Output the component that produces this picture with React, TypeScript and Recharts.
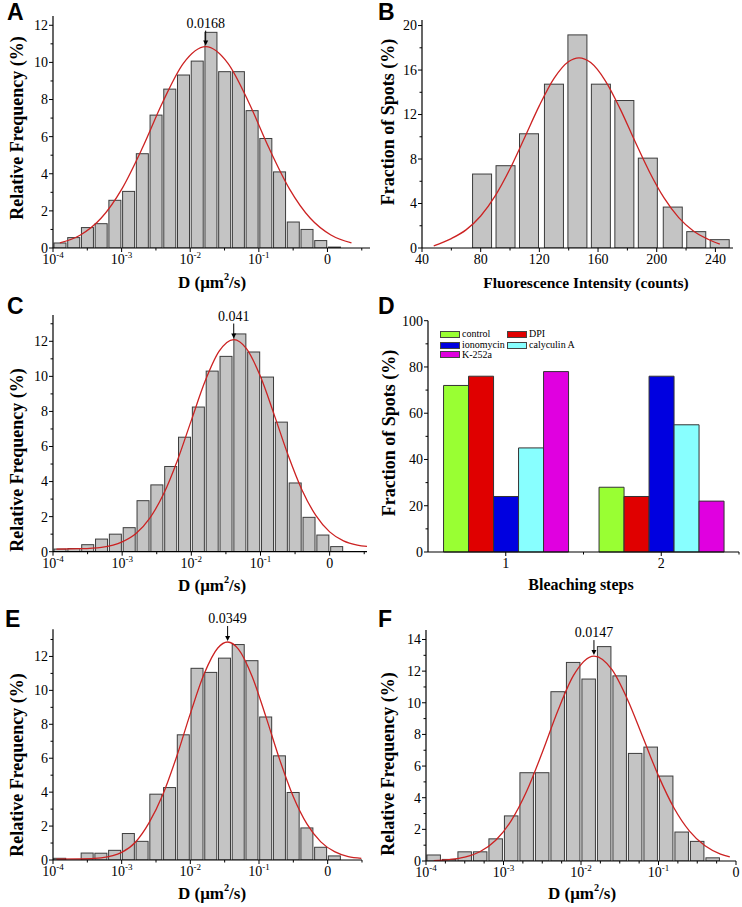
import React from 'react'
import { ComposedChart, BarChart, Bar, Line, XAxis, YAxis, ReferenceDot } from 'recharts'

const SERIF = '"Liberation Serif", "Times New Roman", serif'
const SANS = '"Liberation Sans", Arial, sans-serif'
const BAR_FILL = '#c4c4c4'
const BAR_EDGE = '#3c3c3c'
const FIT_RED = '#cc2222'

// log10(D) bin centres, 0.2 decade bins
const logBins = [-3.9, -3.7, -3.5, -3.3, -3.1, -2.9, -2.7, -2.5, -2.3, -2.1, -1.9, -1.7, -1.5, -1.3, -1.1, -0.9, -0.7, -0.5, -0.3, -0.1, 0.1]
const logBinsF = [-3.9, -3.7, -3.5, -3.3, -3.1, -2.9, -2.7, -2.5, -2.3, -2.1, -1.9, -1.7, -1.5, -1.3, -1.1, -0.9, -0.7, -0.5, -0.3]

// relative frequency (%)
const freqA = [0.27, 0.56, 1.1, 1.31, 2.57, 3.05, 5.08, 7.16, 8.56, 9.32, 10.07, 11.62, 9.5, 9.5, 7.4, 5.9, 4.1, 1.4, 1.0, 0.4, 0.05]
const freqC = [0.15, 0.18, 0.4, 0.72, 1.0, 1.37, 2.91, 3.81, 4.86, 6.53, 8.25, 10.3, 11.14, 12.42, 11.39, 9.96, 7.39, 3.92, 1.96, 0.95, 0.29]
const freqE = [0.1, 0, 0.41, 0.4, 0.57, 1.56, 1.1, 3.88, 4.27, 7.38, 11.3, 11.06, 11.9, 12.7, 11.75, 8.43, 6.14, 3.98, 1.89, 0.75, 0.24]
const freqF = [0.38, 0.1, 0.58, 0.58, 1.4, 2.85, 5.58, 5.58, 10.7, 12.55, 11.5, 13.55, 11.7, 6.8, 7.2, 5.37, 1.83, 1.24, 0.2]

// fitted curves
const fitXA = [-3.9, -3.6, -3.3, -3.0, -2.7, -2.4, -2.1, -1.775, -1.45, -1.15, -0.85, -0.55, -0.25, 0.05, 0.35]
const fitYA = [0.27, 0.7, 1.6, 3.16, 5.37, 7.87, 9.95, 10.85, 9.95, 7.87, 5.37, 3.16, 1.6, 0.7, 0.27]
const fitXC = [-3.95, -3.6, -3.3, -3.0, -2.8, -2.6, -2.4, -2.2, -2.0, -1.8, -1.6, -1.387, -1.2, -1.0, -0.8, -0.6, -0.4, -0.2, 0.0, 0.2, 0.4, 0.54]
const fitYC = [0.15, 0.17, 0.25, 0.56, 1.04, 1.92, 3.3, 5.22, 7.49, 9.73, 11.42, 12.1, 11.57, 9.99, 7.79, 5.5, 3.52, 2.07, 1.13, 0.62, 0.38, 0.3]
const fitXE = [-3.95, -3.6, -3.3, -3.0, -2.8, -2.6, -2.4, -2.2, -2.0, -1.8, -1.6, -1.457, -1.3, -1.1, -0.9, -0.7, -0.5, -0.3, -0.1, 0.1, 0.3, 0.49]
const fitYE = [0.05, 0.06, 0.13, 0.45, 1.05, 2.2, 3.86, 6.09, 8.63, 10.96, 12.5, 12.85, 12.43, 10.82, 8.45, 5.93, 3.73, 2.11, 1.07, 0.49, 0.2, 0.1]
const fitXF = [-3.9, -3.7, -3.5, -3.3, -3.1, -2.9, -2.7, -2.5, -2.3, -2.1, -1.833, -1.6, -1.4, -1.2, -1.0, -0.8, -0.6, -0.4, -0.2, -0.08]
const fitYF = [0.03, 0.09, 0.24, 0.6, 1.31, 2.55, 4.42, 6.86, 9.48, 11.7, 12.95, 12.09, 10.21, 7.8, 5.38, 3.35, 1.89, 0.96, 0.44, 0.26]

// panel B: fluorescence intensity histogram
const intensityBins = [81, 97, 113, 130, 146, 162, 178, 194, 211, 227, 243]
const spotsB = [6.65, 7.4, 10.27, 14.73, 19.16, 14.73, 13.26, 8.08, 3.68, 1.47, 0.75]
const fitXB = [48, 60, 70, 80, 90, 100, 110, 120, 130, 140, 147, 155, 165, 175, 185, 195, 205, 215, 225, 235, 243]
const fitYB = [0.2, 0.85, 1.63, 2.88, 4.71, 7.12, 9.94, 12.8, 15.25, 16.77, 17.1, 16.67, 15.03, 12.53, 9.64, 6.86, 4.5, 2.73, 1.53, 0.79, 0.35]

// panel D: bleaching steps
const steps = ['1', '2']
const control = [72, 28]
const dpi = [76, 24]
const ionomycin = [24, 76]
const calyculin = [45, 55]
const k252a = [78, 22]

// axis ticks
const logMajor = [-4, -3, -2, -1, 0]
const logMinorHalf = [-3.5, -2.5, -1.5, -0.5, 0.5]
const logMinorQuarter = [-3.75, -3.5, -3.25, -2.75, -2.5, -2.25, -1.75, -1.5, -1.25, -0.75, -0.5, -0.25]
const freqMajor = [0, 2, 4, 6, 8, 10, 12, 14]
const freqMinor = [1, 3, 5, 7, 9, 11, 13]
const intensityMajor = [40, 80, 120, 160, 200, 240]
const intensityMinor = [60, 100, 140, 180, 220]
const spotsMajor = [0, 4, 8, 12, 16, 20]
const spotsMinor = [2, 6, 10, 14, 18]
const pctMajor = [0, 20, 40, 60, 80, 100]
const pctMinor = [10, 30, 50, 70, 90]

const zip = (xs: number[], ys: number[]) => xs.map((x, i) => ({ x, y: ys[i] }))

const logLabel = (v: number): React.ReactNode =>
  v === 0 ? '0' : (
    <>
      <tspan>10</tspan>
      <tspan dy={-6} fontSize={9}>{String(v)}</tspan>
    </>
  )

const plainLabel = (v: number): React.ReactNode => String(v)

const xTick = (majors: number[], fmt: (v: number) => React.ReactNode) => (p: any) => {
  const v = p.payload.value
  const major = majors.includes(v)
  return (
    <g>
      <line x1={p.x} y1={p.y} x2={p.x} y2={p.y + (major ? 4 : 2.5)} stroke="#000" strokeWidth={1} />
      {major && (
        <text x={p.x} y={p.y + 16} textAnchor="middle" fontFamily={SERIF} fontSize={14} fill="#000">
          {fmt(v)}
        </text>
      )}
    </g>
  )
}

const yTick = (majors: number[]) => (p: any) => {
  const v = p.payload.value
  const major = majors.includes(v)
  return (
    <g>
      <line x1={p.x} y1={p.y} x2={p.x - (major ? 4 : 2.5)} y2={p.y} stroke="#000" strokeWidth={1} />
      {major && (
        <text x={p.x - 5} y={p.y} dy="0.35em" textAnchor="end" fontFamily={SERIF} fontSize={14} fill="#000">
          {v}
        </text>
      )}
    </g>
  )
}

// keep Recharts' bar centre, but force the drawn width
const histBar = (w: number) => (p: any) => {
  if (!p.height || p.height <= 0) return <g />
  const cx = p.x + p.width / 2
  return <rect x={cx - w / 2} y={p.y} width={w} height={p.height} fill={BAR_FILL} stroke={BAR_EDGE} strokeWidth={1} />
}

const PeakArrow = (p: any) => {
  const { cx, cy, text } = p
  return (
    <g>
      <text x={cx} y={cy - 19} textAnchor="middle" fontFamily={SERIF} fontSize={14} fill="#000">{text}</text>
      <line x1={cx} y1={cy - 16} x2={cx} y2={cy - 5} stroke="#000" strokeWidth={1} />
      <path d={`M${cx - 2.5},${cy - 6} L${cx + 2.5},${cy - 6} L${cx},${cy - 1} Z`} fill="#000" />
    </g>
  )
}

const within = (ticks: number[], d: [number, number]) =>
  ticks.filter((t) => t >= d[0] && t <= d[1]).sort((a, b) => a - b)

interface HistProps {
  left: number
  top: number
  width: number
  height: number
  plot: { left: number; top: number; right: number; bottom: number }
  bars: { x: number; y: number }[]
  barSize: number
  fit: { x: number; y: number }[]
  xDomain: [number, number]
  xMajor: number[]
  xMinor: number[]
  xFmt: (v: number) => React.ReactNode
  yDomain: [number, number]
  yMajor: number[]
  yMinor: number[]
  peak?: { x: number; y: number; text: string }
}

function Histogram(props: HistProps) {
  const { plot, width, height, xDomain, yDomain } = props
  const xAxisH = 30
  const xMajor = within(props.xMajor, xDomain)
  const yMajor = within(props.yMajor, yDomain)
  return (
    <div style={{ position: 'absolute', left: props.left, top: props.top }}>
      <ComposedChart
        width={width}
        height={height}
        data={props.bars}
        margin={{ top: plot.top, right: width - plot.right, left: 0, bottom: height - plot.bottom - xAxisH }}
      >
        <XAxis
          dataKey="x"
          type="number"
          domain={xDomain}
          allowDataOverflow
          ticks={within([...props.xMajor, ...props.xMinor], xDomain)}
          interval={0}
          height={xAxisH}
          tickSize={0}
          tickMargin={0}
          tickLine={false}
          axisLine={{ stroke: '#000', strokeWidth: 1.2 }}
          tick={xTick(xMajor, props.xFmt)}
        />
        <YAxis
          type="number"
          domain={yDomain}
          allowDataOverflow
          ticks={within([...props.yMajor, ...props.yMinor], yDomain)}
          interval={0}
          width={plot.left}
          tickSize={0}
          tickMargin={0}
          tickLine={false}
          axisLine={{ stroke: '#000', strokeWidth: 1.2 }}
          tick={yTick(yMajor)}
        />
        <Bar dataKey="y" shape={histBar(props.barSize)} isAnimationActive={false} />
        <Line
          data={props.fit}
          dataKey="y"
          type="monotone"
          stroke={FIT_RED}
          strokeWidth={1.3}
          dot={false}
          activeDot={false}
          isAnimationActive={false}
        />
        {props.peak && (
          <ReferenceDot
            x={props.peak.x}
            y={props.peak.y}
            r={1}
            shape={(p: any) => <PeakArrow {...p} text={props.peak!.text} />}
          />
        )}
      </ComposedChart>
    </div>
  )
}

const STEP_HALF = 77.75

const stepTick = (p: any) => (
  <g>
    <line x1={p.x} y1={p.y} x2={p.x} y2={p.y + 4} stroke="#000" />
    <line x1={p.x + STEP_HALF} y1={p.y} x2={p.x + STEP_HALF} y2={p.y + 2.5} stroke="#000" />
    <text x={p.x} y={p.y + 16} textAnchor="middle" fontFamily={SERIF} fontSize={14} fill="#000">
      {p.payload.value}
    </text>
  </g>
)

const stepSeries = [
  { key: 'control', label: 'control', color: '#99ff33' },
  { key: 'dpi', label: 'DPI', color: '#e00000' },
  { key: 'ionomycin', label: 'ionomycin', color: '#0000e0' },
  { key: 'calyculin', label: 'calyculin A', color: '#88ffff' },
  { key: 'k252a', label: 'K-252a', color: '#e000e0' },
]

function StepsChart() {
  const data = steps.map((s, i) => ({
    step: s,
    control: control[i],
    dpi: dpi[i],
    ionomycin: ionomycin[i],
    calyculin: calyculin[i],
    k252a: k252a[i],
  }))
  return (
    <div style={{ position: 'absolute', left: 371, top: 300 }}>
      <BarChart
        width={371}
        height={300}
        data={data}
        margin={{ top: 20.7, right: 3, left: 0, bottom: 18 }}
        barGap={0}
        barCategoryGap="10%"
      >
        <XAxis
          dataKey="step"
          height={30}
          tickSize={0}
          tickMargin={0}
          tickLine={false}
          interval={0}
          axisLine={{ stroke: '#000', strokeWidth: 1.2 }}
          tick={stepTick}
        />
        <YAxis
          type="number"
          domain={[0, 100]}
          ticks={[...pctMajor, ...pctMinor].sort((a, b) => a - b)}
          interval={0}
          width={57}
          tickSize={0}
          tickMargin={0}
          tickLine={false}
          axisLine={{ stroke: '#000', strokeWidth: 1.2 }}
          tick={yTick(pctMajor)}
        />
        {stepSeries.map((s) => (
          <Bar key={s.key} dataKey={s.key} fill={s.color} stroke="#333" strokeWidth={1} isAnimationActive={false} />
        ))}
      </BarChart>
    </div>
  )
}

function StepsLegend() {
  const cells = [
    { s: stepSeries[0], x: 440, y: 334 },
    { s: stepSeries[1], x: 507, y: 334 },
    { s: stepSeries[2], x: 440, y: 345 },
    { s: stepSeries[3], x: 507, y: 345 },
    { s: stepSeries[4], x: 440, y: 354.5 },
  ]
  return (
    <>
      {cells.map(({ s, x, y }) => (
        <div key={s.key} style={{ position: 'absolute', left: x, top: y - 4, height: 8, display: 'flex', alignItems: 'center' }}>
          <div style={{ width: 20, height: 7, boxSizing: 'border-box', background: s.color, border: '1px solid #444' }} />
          <span style={{ marginLeft: 2, fontFamily: SERIF, fontSize: 10, lineHeight: '8px', whiteSpace: 'nowrap' }}>{s.label}</span>
        </div>
      ))}
    </>
  )
}

function PanelLetter({ x, baseline, text }: { x: number; baseline: number; text: string }) {
  return (
    <div
      style={{
        position: 'absolute',
        left: x,
        top: baseline - 19.5,
        fontFamily: SANS,
        fontWeight: 'bold',
        fontSize: 23,
        lineHeight: 1,
      }}
    >
      {text}
    </div>
  )
}

function YTitle({ cx, cy, children }: { cx: number; cy: number; children: React.ReactNode }) {
  return (
    <div
      style={{
        position: 'absolute',
        left: cx,
        top: cy,
        transform: 'translate(-50%, -50%) rotate(-90deg)',
        whiteSpace: 'nowrap',
        fontFamily: SERIF,
        fontWeight: 'bold',
        fontSize: 18,
        lineHeight: 1,
      }}
    >
      {children}
    </div>
  )
}

function XTitle({ cx, cy, size = 16, children }: { cx: number; cy: number; size?: number; children: React.ReactNode }) {
  return (
    <div
      style={{
        position: 'absolute',
        left: cx,
        top: cy,
        transform: 'translate(-50%, -50%)',
        whiteSpace: 'nowrap',
        fontFamily: SERIF,
        fontWeight: 'bold',
        fontSize: size,
        lineHeight: 1,
      }}
    >
      {children}
    </div>
  )
}

const dUnit = (
  <span>
    D (μm<sup style={{ fontSize: '0.6em', verticalAlign: '0.7em', lineHeight: 0 }}>2</sup>/s)
  </span>
)

export default function App() {
  return (
    <div style={{ position: 'absolute', left: 0, top: 0, width: 742, height: 907, background: '#fff', overflow: 'hidden' }}>
      <Histogram
        left={0}
        top={0}
        width={371}
        height={300}
        plot={{ left: 53, top: 16, right: 370, bottom: 248 }}
        bars={zip(logBins, freqA)}
        barSize={12}
        fit={zip(fitXA, fitYA)}
        xDomain={[-4, 0.62]}
        xMajor={logMajor}
        xMinor={logMinorHalf}
        xFmt={logLabel}
        yDomain={[0, 12.5]}
        yMajor={freqMajor}
        yMinor={freqMinor}
        peak={{ x: -1.775, y: 10.85, text: '0.0168' }}
      />
      <Histogram
        left={371}
        top={0}
        width={371}
        height={300}
        plot={{ left: 51, top: 20, right: 362, bottom: 248 }}
        bars={zip(intensityBins, spotsB)}
        barSize={19}
        fit={zip(fitXB, fitYB)}
        xDomain={[40, 252]}
        xMajor={intensityMajor}
        xMinor={intensityMinor}
        xFmt={plainLabel}
        yDomain={[0, 20.5]}
        yMajor={spotsMajor}
        yMinor={spotsMinor}
      />
      <Histogram
        left={0}
        top={300}
        width={371}
        height={300}
        plot={{ left: 53, top: 15, right: 367, bottom: 251.7 }}
        bars={zip(logBins, freqC)}
        barSize={12}
        fit={zip(fitXC, fitYC)}
        xDomain={[-4, 0.54]}
        xMajor={logMajor}
        xMinor={logMinorHalf}
        xFmt={logLabel}
        yDomain={[0, 13.5]}
        yMajor={freqMajor}
        yMinor={freqMinor}
        peak={{ x: -1.387, y: 12.1, text: '0.041' }}
      />
      <StepsChart />
      <StepsLegend />
      <Histogram
        left={0}
        top={600}
        width={371}
        height={307}
        plot={{ left: 53, top: 29.3, right: 362, bottom: 260 }}
        bars={zip(logBins, freqE)}
        barSize={12}
        fit={zip(fitXE, fitYE)}
        xDomain={[-4, 0.5]}
        xMajor={logMajor}
        xMinor={logMinorHalf}
        xFmt={logLabel}
        yDomain={[0, 13.6]}
        yMajor={freqMajor}
        yMinor={freqMinor}
        peak={{ x: -1.457, y: 12.85, text: '0.0349' }}
      />
      <Histogram
        left={371}
        top={600}
        width={371}
        height={307}
        plot={{ left: 55, top: 30, right: 365, bottom: 261 }}
        bars={zip(logBinsF, freqF)}
        barSize={13.5}
        fit={zip(fitXF, fitYF)}
        xDomain={[-4, 0]}
        xMajor={logMajor}
        xMinor={logMinorQuarter}
        xFmt={logLabel}
        yDomain={[0, 14.6]}
        yMajor={freqMajor}
        yMinor={freqMinor}
        peak={{ x: -1.833, y: 12.95, text: '0.0147' }}
      />

      <PanelLetter x={7} baseline={20} text="A" />
      <PanelLetter x={378} baseline={20} text="B" />
      <PanelLetter x={7} baseline={314} text="C" />
      <PanelLetter x={378} baseline={314} text="D" />
      <PanelLetter x={5} baseline={627} text="E" />
      <PanelLetter x={378} baseline={627} text="F" />

      <YTitle cx={17} cy={128}>Relative Frequency (%)</YTitle>
      <YTitle cx={388} cy={122}>Fraction of Spots (%)</YTitle>
      <YTitle cx={17} cy={460}>Relative Frequency (%)</YTitle>
      <YTitle cx={389} cy={433}>Fraction of Spots (%)</YTitle>
      <YTitle cx={17} cy={765}>Relative Frequency (%)</YTitle>
      <YTitle cx={388} cy={764}>Relative Frequency (%)</YTitle>

      <XTitle cx={212} cy={282} size={17}>{dUnit}</XTitle>
      <XTitle cx={586} cy={283} size={15.5}>Fluorescence Intensity (counts)</XTitle>
      <XTitle cx={212} cy={585} size={17}>{dUnit}</XTitle>
      <XTitle cx={581} cy={585} size={16}>Bleaching steps</XTitle>
      <XTitle cx={212} cy={893} size={17}>{dUnit}</XTitle>
      <XTitle cx={582} cy={893} size={17}>{dUnit}</XTitle>
    </div>
  )
}
